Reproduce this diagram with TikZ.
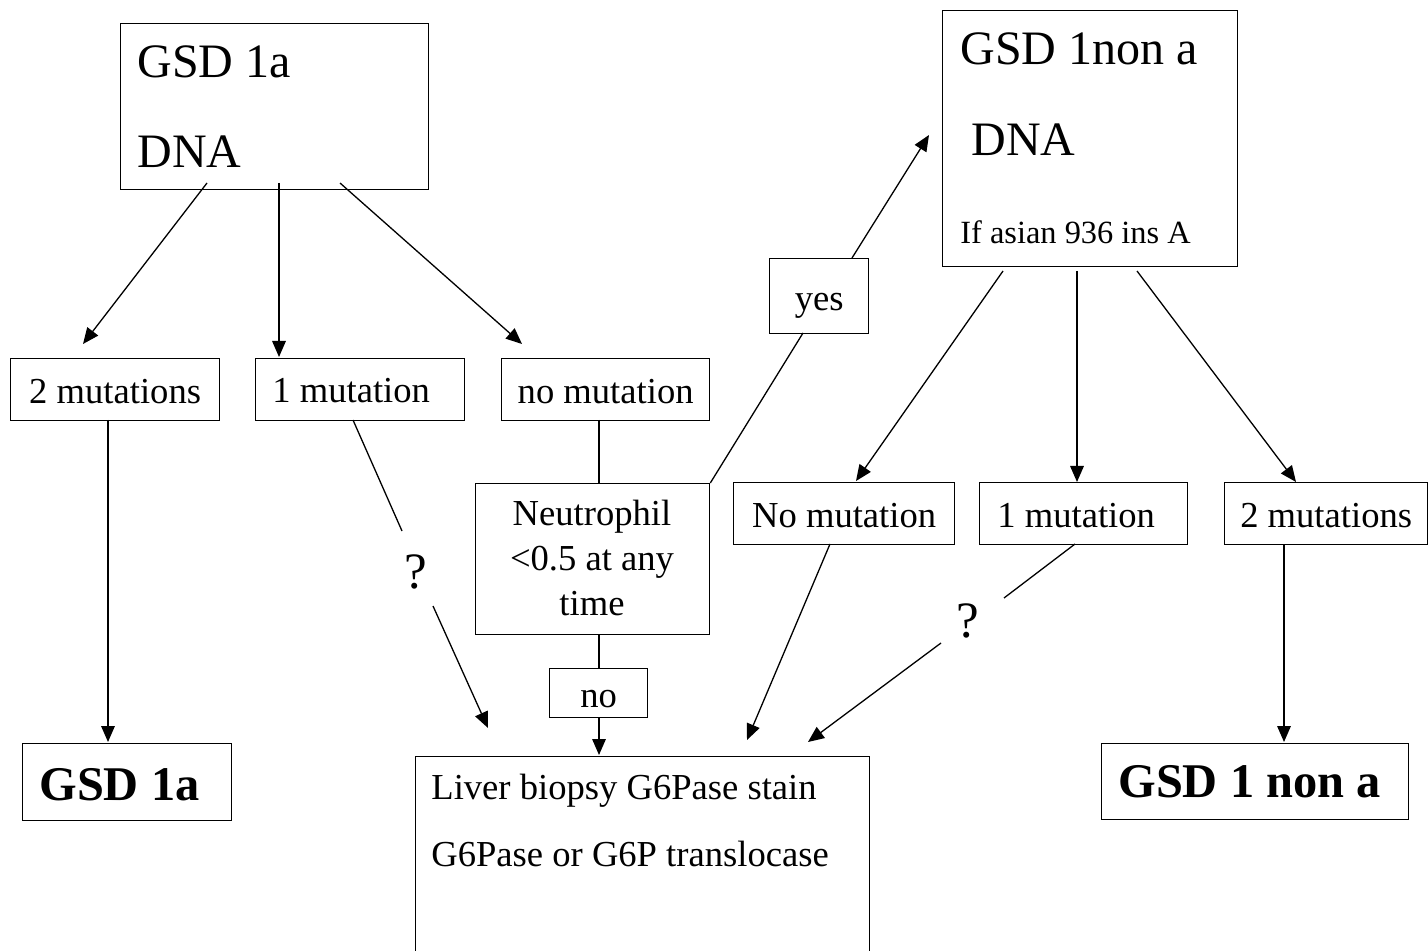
\documentclass[tikz,border=0pt]{standalone}
\usepackage{fontspec}
\setmainfont{Liberation Serif}
\usetikzlibrary{arrows.meta}
\newcommand\fnorm{\fontsize{18.3pt}{22pt}\selectfont}
\newcommand\fbig{\fontsize{24pt}{29pt}\selectfont}
\newcommand\fsmall{\fontsize{16.2pt}{19pt}\selectfont}
\newcommand\fq{\fontsize{25.5pt}{30pt}\selectfont}
\newcommand\fbld{\fontsize{24.2pt}{29pt}\selectfont\bfseries}
\begin{document}
\begin{tikzpicture}[x=0.5pt,y=-0.5pt,
  box/.style={draw,line width=0.65pt,inner sep=0pt,anchor=north west,font=\fnorm,text height=13.9pt,text depth=0pt},
  lab/.style={inner sep=0pt,anchor=base west},
  clab/.style={inner sep=0pt,anchor=base},
  arr/.style={line width=0.65pt,-{Triangle[length=8pt,width=6.8pt]}},
  ln/.style={line width=0.65pt}]
\useasboundingbox (0,0) rectangle (1428,951);
\clip (0,0) rectangle (1428,951);
% boxes
\node[box,minimum width=154pt,minimum height=83pt] (A) at (120,23) {};
\node[box,minimum width=147.5pt,minimum height=128pt] (B) at (942,10) {};
\node[box,minimum width=49.5pt,minimum height=37.5pt] (yes) at (769,258) {yes};
\node[box,minimum width=104.5pt,minimum height=31pt] (m2L) at (10,358) {2 mutations};
\node[box,minimum width=104.5pt,minimum height=31pt] (m1L) at (255,358) {};
\node[box,minimum width=104pt,minimum height=31pt] (m0L) at (501,358) {no mutation};
\node[box,minimum width=117pt,minimum height=75.5pt] (neu) at (475,483) {};
\node[box,minimum width=110.5pt,minimum height=31pt] (m0R) at (733,482) {No mutation};
\node[box,minimum width=104pt,minimum height=31pt] (m1R) at (979,482) {};
\node[box,minimum width=101.5pt,minimum height=31pt] (m2R) at (1224,482) {2 mutations};
\node[box,minimum width=49pt,minimum height=24.5pt] (no) at (549,668) {no};
\node[box,minimum width=104.5pt,minimum height=38.5pt] (r1a) at (22,743) {};
\node[box,minimum width=153.5pt,minimum height=38pt] (r1n) at (1101,743) {};
\node[box,minimum width=227pt,minimum height=107pt] (liver) at (415,756) {};
% texts
\node[lab,font=\fbig] (tA1) at (137,78) {GSD 1a};
\node[lab,font=\fbig] (tA2) at (137,168) {DNA};
\node[lab,font=\fbig] (tB1) at (960,65) {GSD 1non a};
\node[lab,font=\fbig] (tB2) at (971,156) {DNA};
\node[lab,font=\fsmall] (tB3) at (960,244) {If asian 936 ins A};
\node[lab,font=\fnorm] (tm1L) at (272,403) {1 mutation};
\node[lab,font=\fnorm] (tm1R) at (997,527) {1 mutation};
\node[clab,font=\fnorm] (tn1) at (592,525) {Neutrophil};
\node[clab,font=\fnorm] (tn2) at (592,570) {<0.5 at any};
\node[clab,font=\fnorm] (tn3) at (592,615) {time};
\node[lab,font=\fnorm] (tl1) at (431,799) {Liver biopsy G6Pase stain};
\node[lab,font=\fnorm] (tl2) at (431,866) {G6Pase or G6P translocase};
\node[lab,font=\fbld] (tr1) at (39,800) {GSD 1a};
\node[lab,font=\fbld] (tr2) at (1118,797) {GSD 1 non a};
\node[clab,font=\fq] (q1) at (416,588) {?};
\node[clab,font=\fq] (q2) at (968,637) {?};
% connector end points
\coordinate (a1s) at (207,183); \coordinate (a1e) at (83,344);
\coordinate (a2s) at (279,183); \coordinate (a2e) at (279,357);
\coordinate (a3s) at (340,183); \coordinate (a3e) at (522,344);
\coordinate (b1s) at (1003,271); \coordinate (b1e) at (856,481);
\coordinate (b2s) at (1077,271); \coordinate (b2e) at (1077,482);
\coordinate (b3s) at (1137,271); \coordinate (b3e) at (1296,482);
\coordinate (c1s) at (108,420); \coordinate (c1e) at (108,742);
\coordinate (d1s) at (353,420); \coordinate (d1e) at (402,531);
\coordinate (d2s) at (433,606); \coordinate (d2e) at (488,728);
\coordinate (n1) at (599,420); \coordinate (n2) at (599,483);
\coordinate (n3) at (599,634); \coordinate (n4) at (599,668);
\coordinate (n5) at (599,717); \coordinate (n6) at (599,755);
\coordinate (y1) at (803,333); \coordinate (y2) at (852,258); \coordinate (y3) at (929,135);
\coordinate (e1s) at (830,544); \coordinate (e1e) at (747,740);
\coordinate (f1s) at (1075,544); \coordinate (f1e) at (1004,598);
\coordinate (f2s) at (941,643); \coordinate (f2e) at (808,742);
\coordinate (g1s) at (1284,544); \coordinate (g1e) at (1284,742);
% connectors
\draw[arr] (a1s) -- (a1e);
\draw[arr] (a2s) -- (a2e);
\draw[arr] (a3s) -- (a3e);
\draw[arr] (b1s) -- (b1e);
\draw[arr] (b2s) -- (b2e);
\draw[arr] (b3s) -- (b3e);
\draw[arr] (c1s) -- (c1e);
\draw[ln] (d1s) -- (d1e);
\draw[arr] (d2s) -- (d2e);
\draw[ln] (n1) -- (n2);
\draw[ln] (n3) -- (n4);
\draw[arr] (n5) -- (n6);
\draw[ln] (neu.north east) -- (y1);
\draw[arr] (y2) -- (y3);
\draw[arr] (e1s) -- (e1e);
\draw[ln] (f1s) -- (f1e);
\draw[arr] (f2s) -- (f2e);
\draw[arr] (g1s) -- (g1e);
\end{tikzpicture}
\end{document}
